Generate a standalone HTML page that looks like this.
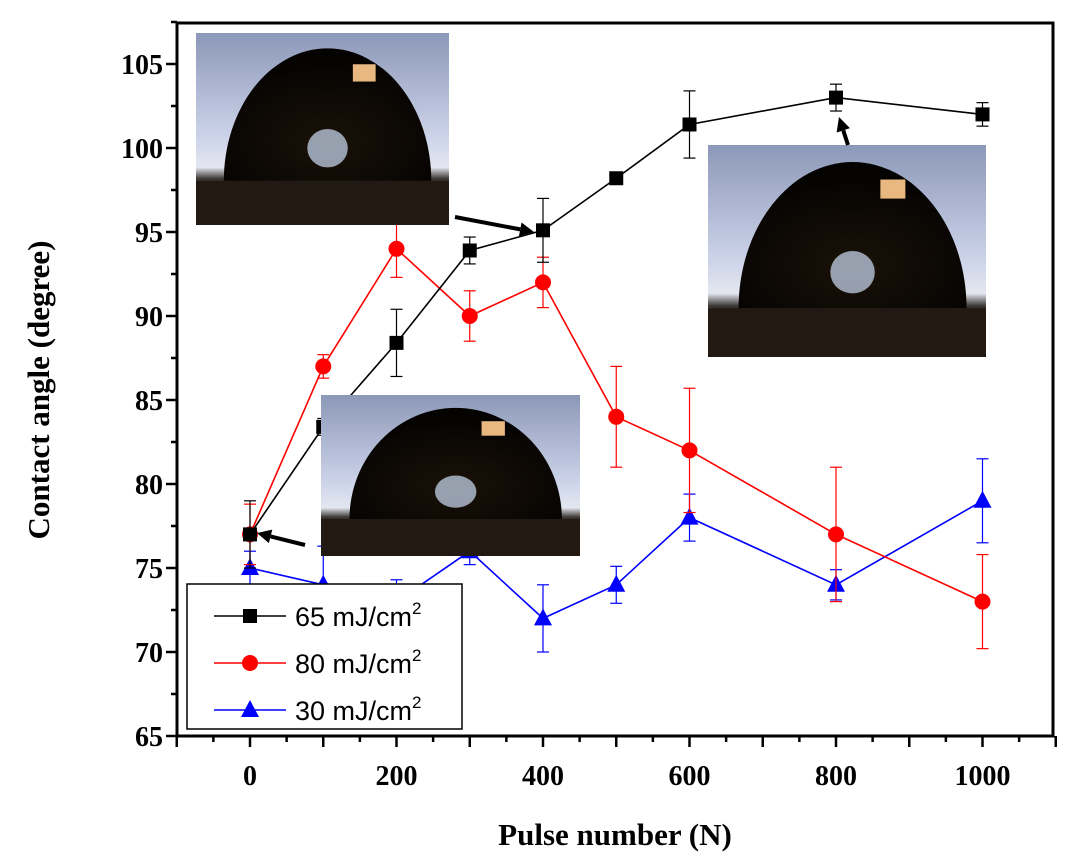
<!DOCTYPE html>
<html><head><meta charset="utf-8"><style>
body{margin:0;background:#fff;}
svg text{font-family:"Liberation Serif",serif;}
</style></head><body>
<svg id="chart" width="1073" height="863" xmlns="http://www.w3.org/2000/svg">
<defs>
<linearGradient id="bg" x1="0" y1="0" x2="0" y2="1"><stop offset="0" stop-color="#8c98b8"/><stop offset="0.55" stop-color="#cdd4ea"/><stop offset="0.7" stop-color="#e4e7f0"/><stop offset="0.76" stop-color="#3a3430"/><stop offset="1" stop-color="#201810"/></linearGradient>
<radialGradient id="dome" cx="0.5" cy="0.7" r="0.6"><stop offset="0" stop-color="#1a1208"/><stop offset="1" stop-color="#050302"/></radialGradient>
</defs>
<g id="plot"></g>
<g id="photos"></g>
<g id="topG"></g>
</svg>
<script>
const xTicks=[0,200,400,600,800,1000];
const yTicks=[65,70,75,80,85,90,95,100,105];
const pulses=[0,100,200,300,400,500,600,800,1000];
const s65=[77,83.4,88.4,93.9,95.1,98.2,101.4,103,102];
const e65=[2,0.5,2,0.8,1.9,0.3,2,0.8,0.7];
const s80=[77,87,94,90,92,84,82,77,73];
const e80=[1.8,0.7,1.7,1.5,1.5,3,3.7,4,2.8];
const s30=[75,74,73,76,72,74,78,74,79];
const e30=[1,2.3,1.3,0.8,2,1.1,1.4,0.9,2.5];
const NS='http://www.w3.org/2000/svg';
const L=177,R=1053,T=23,B=736;
const xs=v=>250+(v)*0.7325;
const ys=v=>736-(v-65)*16.8;
const plot=document.getElementById('plot'),photos=document.getElementById('photos'),topG=document.getElementById('topG');
function mk(p,tag,a){const e=document.createElementNS(NS,tag);for(const k in a)e.setAttribute(k,a[k]);p.appendChild(e);return e;}
function photo(x,y,w,h,name){
 const g=mk(photos,'g',{});
 
 
 mk(g,'rect',{x:x,y:y,width:w,height:h,fill:'url(#bg)'});
 const by=y+h*0.77, cx=x+w*0.52, rw=w*0.41, rh=h*0.69;
 mk(g,'path',{d:`M${cx-rw},${by} A${rw},${rh} 0 0 1 ${cx+rw},${by} Z`,fill:'url(#dome)'});
 mk(g,'rect',{x:x,y:by,width:w,height:h-(by-y),fill:'#221a12'});
 mk(g,'ellipse',{cx:cx,cy:y+h*0.6,rx:w*0.08,ry:h*0.1,fill:'#b8c4d8',opacity:0.8});
 mk(g,'rect',{x:cx+w*0.1,y:by-rh*0.88,width:w*0.09,height:h*0.09,fill:'#e8b880'});
}
function arrow(x1,y1,x2,y2,name){
 const a=Math.atan2(y2-y1,x2-x1);
 const g=mk(topG,'g',{});
 
 
 const bx=x2-14*Math.cos(a),by=y2-14*Math.sin(a);
 mk(g,'line',{x1:x1,y1:y1,x2:bx,y2:by,stroke:'#000','stroke-width':4});
 const px=-Math.sin(a)*7,py=Math.cos(a)*7;
 mk(g,'polygon',{points:`${x2},${y2} ${bx+px},${by+py} ${bx-px},${by-py}`,fill:'#000'});
}
mk(plot,'rect',{x:L,y:T,width:R-L,height:B-T,fill:'none',stroke:'#000','stroke-width':3});
for(let v=-100;v<=1100;v+=50){const x=xs(v);mk(plot,'line',{x1:x,y1:B,x2:x,y2:B+(v%100===0?11:6),stroke:'#000','stroke-width':2.5});}
for(let v=65;v<=107.5;v+=2.5){const y=ys(v);if(y<T-1)continue;mk(plot,'line',{x1:L,y1:y,x2:L-(v%5===0?11:6),y2:y,stroke:'#000','stroke-width':2.5});}
xTicks.forEach(v=>{const t=mk(plot,'text',{x:xs(v),y:785,'text-anchor':'middle','font-size':28,'font-weight':'bold'});t.textContent=v;});
yTicks.forEach(v=>{const t=mk(plot,'text',{x:163,y:ys(v)+10,'text-anchor':'end','font-size':28,'font-weight':'bold'});t.textContent=v;});
let t=mk(plot,'text',{x:615,y:845,'text-anchor':'middle','font-size':31,'font-weight':'bold'});t.textContent='Pulse number (N)';

t=mk(plot,'text',{x:0,y:0,transform:'translate(49,390) rotate(-90)','text-anchor':'middle','font-size':31,'font-weight':'bold'});t.textContent='Contact angle (degree)';

function marker(g,type,x,y,c){
 if(type==='sq')mk(g,'rect',{x:x-7,y:y-7,width:14,height:14,fill:c});
 else if(type==='ci')mk(g,'circle',{cx:x,cy:y,r:8,fill:c});
 else mk(g,'polygon',{points:`${x},${y-10} ${x-9},${y+7} ${x+9},${y+7}`,fill:c});
}
function series(vals,errs,c,type,name){
 const g=mk(plot,'g',{});
 
 
 mk(g,'polyline',{points:pulses.map((p,i)=>xs(p)+','+ys(vals[i])).join(' '),fill:'none',stroke:c,'stroke-width':1.6});
 pulses.forEach((p,i)=>{const x=xs(p),y1=ys(vals[i]-errs[i]),y2=ys(vals[i]+errs[i]);
  mk(g,'line',{x1:x,y1:y1,x2:x,y2:y2,stroke:c,'stroke-width':1.2});
  mk(g,'line',{x1:x-6,y1:y1,x2:x+6,y2:y1,stroke:c,'stroke-width':1.2});
  mk(g,'line',{x1:x-6,y1:y2,x2:x+6,y2:y2,stroke:c,'stroke-width':1.2});
  marker(g,type,x,ys(vals[i]),c);});
}
series(s30,e30,'#0000ff','tr','series-30');
series(s80,e80,'#ff0000','ci','series-80');
series(s65,e65,'#000000','sq','series-65');
photo(196,33,253,192,'droplet-photo-400');
photo(708,145,278,212,'droplet-photo-800');
photo(321,395,259,161,'droplet-photo-0');
arrow(455,217,534,232,'arrow-400');
arrow(848,145,839,117,'arrow-800');
arrow(305,545,257,533,'arrow-0');
const lg=mk(topG,'g',{});


mk(lg,'rect',{x:187,y:584,width:275,height:145,fill:'#fff',stroke:'#000','stroke-width':1.5});
[['65','#000','sq'],['80','#ff0000','ci'],['30','#0000ff','tr']].forEach((d,i)=>{
 const y=616+i*47;
 mk(lg,'line',{x1:214,y1:y,x2:286,y2:y,stroke:d[1],'stroke-width':1.6});
 marker(lg,d[2],250,y,d[1]);
 const tx=mk(lg,'text',{x:295,y:y+10,'font-size':27,style:'font-family:"Liberation Sans",sans-serif'});
 tx.innerHTML=d[0]+' mJ/cm<tspan dy="-12" font-size="17">2</tspan>';
 
 
});
</script>
</body></html>
